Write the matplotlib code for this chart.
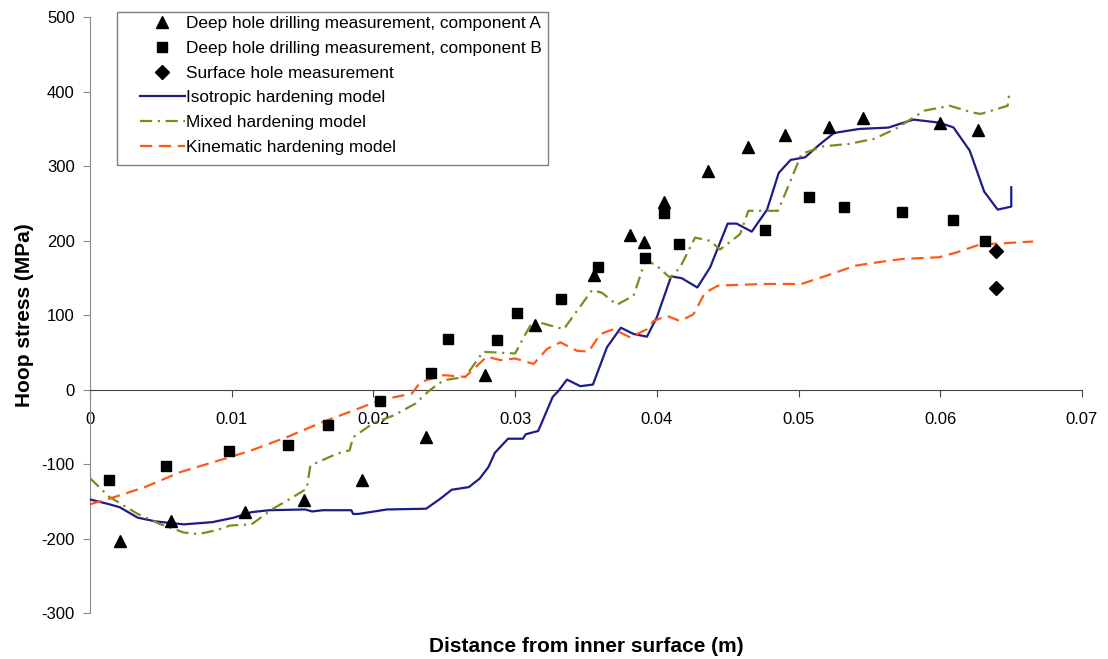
import matplotlib
matplotlib.use("Agg")
import matplotlib.pyplot as plt
from matplotlib.patches import Rectangle

plt.rcParams['font.family'] = ['Liberation Sans', 'DejaVu Sans']
plt.rcParams['axes.unicode_minus'] = False

# Deep hole drilling, component A (triangles)
a_x = [0.00214, 0.00573, 0.01095, 0.01513, 0.0192, 0.0237, 0.02786, 0.03143,
       0.03557, 0.03813, 0.03907, 0.04048, 0.04362, 0.04646, 0.04906, 0.05215,
       0.05458, 0.06001, 0.06269]
a_y = [-203, -177, -164, -148, -122, -64, 19, 87,
       154, 207, 198, 252, 293, 326, 342, 352,
       365, 358, 348]

# Deep hole drilling, component B (squares)
b_x = [0.00133, 0.0054, 0.00982, 0.014, 0.01683, 0.0205, 0.02405, 0.02523,
       0.02873, 0.03016, 0.03326, 0.03582, 0.03915, 0.0405, 0.04158, 0.04765,
       0.05072, 0.0532, 0.05728, 0.06093, 0.06313]
b_y = [-121, -103, -83, -74, -47, -15, 22, 68,
       67, 103, 121, 164, 177, 237, 196, 214,
       258, 245, 238, 228, 200]

# Surface hole measurement (diamonds)
s_x = [0.06395, 0.06395]
s_y = [186, 137]

# Isotropic hardening model
iso_x = [0, 0.00136, 0.0021, 0.00337, 0.00462, 0.00563, 0.00663, 0.00864, 0.01015,
         0.0114, 0.01266, 0.01518, 0.01568, 0.01643, 0.01844, 0.01857, 0.01894,
         0.02095, 0.02372, 0.02472, 0.02553, 0.02673, 0.02749, 0.02812, 0.02857,
         0.0295, 0.03055, 0.03075, 0.03163, 0.03265, 0.03308, 0.03366, 0.0346,
         0.03549, 0.03648, 0.03746, 0.03836, 0.0393, 0.04, 0.04101, 0.04176,
         0.04286, 0.04376, 0.045, 0.04563, 0.0467, 0.04778, 0.0486, 0.04944,
         0.05046, 0.05148, 0.0525, 0.05429, 0.05634, 0.05736, 0.05812, 0.05991,
         0.06093, 0.06208, 0.0631, 0.06405, 0.06501, 0.06501]
iso_y = [-147.5, -154, -158, -172, -177, -179, -181, -178, -172,
         -164.6, -162, -161, -163.7, -162, -162, -167, -167,
         -161, -160, -146.6, -134.5, -131, -119.7, -104, -85,
         -66, -66, -60, -55.6, -10, -1.3, 13.4, 4.5,
         6.7, 56.7, 83, 74.6, 71, 97, 152, 149.5,
         137, 164, 222.8, 222.8, 212, 241.6, 290.8, 308.3,
         311.8, 328.9, 344.5, 349.9, 351.7, 358, 362.4, 358.4,
         352, 320.8, 265.8, 241.6, 245.6, 271.6]

# Mixed hardening model
mix_x = [0, 0.00136, 0.00337, 0.00487, 0.00663, 0.00764, 0.0089, 0.0099, 0.0114,
         0.01291, 0.01392, 0.0153, 0.01555, 0.01744, 0.01832, 0.01857, 0.01995,
         0.02146, 0.02297, 0.02397, 0.02497, 0.02648, 0.02774, 0.03, 0.03062,
         0.03128, 0.03343, 0.03543, 0.03613, 0.03718, 0.03836, 0.03918, 0.03988,
         0.04094, 0.04164, 0.0427, 0.04376, 0.04446, 0.04587, 0.04646, 0.04855,
         0.04944, 0.05021, 0.05174, 0.05353, 0.05531, 0.05684, 0.05889, 0.06068,
         0.06221, 0.06284, 0.06476, 0.06489]
mix_y = [-119, -144, -167, -180, -192, -194, -189, -182.5, -181,
         -160, -149, -133, -102, -86, -81.6, -64, -45.7,
         -34.5, -18.8, -1, 12.6, 17, 50.7, 48.4, 70.8,
         92.4, 81, 133.5, 130, 113.8, 126, 172.8, 168,
         150, 164, 204, 199.6, 188, 208.5, 240, 240,
         280.5, 316.3, 326.6, 329.7, 336.5, 350, 374.5, 381,
         372.2, 370, 381, 401]

# Kinematic hardening model
kin_x = [0, 0.00136, 0.00387, 0.00638, 0.0099, 0.0114, 0.01392, 0.01643, 0.01894,
         0.02045, 0.02271, 0.02334, 0.02497, 0.02648, 0.02799, 0.02899, 0.03,
         0.03131, 0.03225, 0.03319, 0.03437, 0.03519, 0.03601, 0.03695, 0.03812,
         0.0393, 0.03977, 0.0407, 0.04164, 0.04258, 0.0434, 0.04434, 0.04765,
         0.05021, 0.05199, 0.05404, 0.05557, 0.05736, 0.05991, 0.06119, 0.06271,
         0.06374, 0.06655]
kin_y = [-154, -146.6, -131, -110.8, -90.6, -81.6, -63.7, -43.5, -25.6,
         -14.3, -5.4, 10.3, 19.3, 17, 44, 39.5, 41.7,
         34.4, 54.5, 63.4, 52, 51, 74.6, 81, 70,
         81, 92, 99, 92, 101, 130, 139.6, 141.8,
         141.8, 153, 166.4, 170.9, 175.4, 177.6, 184.3, 194.2,
         195.6, 198.7]

x_ticks = [0, 0.01, 0.02, 0.03, 0.04, 0.05, 0.06, 0.07]
x_tick_labels = ["0", "0.01", "0.02", "0.03", "0.04", "0.05", "0.06", "0.07"]
y_ticks = [-300, -200, -100, 0, 100, 200, 300, 400, 500]

fig = plt.figure(figsize=(11.08, 6.59), dpi=100)
ax = fig.add_axes([0.0812, 0.0698, 0.8953, 0.9042])

ax.plot(a_x, a_y, linestyle='none', marker='^', color='black', markersize=8.5,
        label='Deep hole drilling measurement, component A', zorder=4)
ax.plot(b_x, b_y, linestyle='none', marker='s', color='black', markersize=7.5,
        label='Deep hole drilling measurement, component B', zorder=4)
ax.plot(s_x, s_y, linestyle='none', marker='D', color='black', markersize=7,
        label='Surface hole measurement', zorder=4)
ax.plot(iso_x, iso_y, color='#1c1c8a', lw=1.6, label='Isotropic hardening model', zorder=3)
ax.plot(mix_x, mix_y, color='#7c8c1c', lw=1.6, dashes=(5.5, 2.5, 1, 2.5),
        label='Mixed hardening model', zorder=3)
ax.plot(kin_x, kin_y, color='#ff5a14', lw=1.6, dashes=(5.5, 3),
        label='Kinematic hardening model', zorder=3)

ax.set_xlim(0, 0.07)
ax.set_ylim(-300, 500)

for s in ['top', 'right']:
    ax.spines[s].set_visible(False)
ax.spines['left'].set_color('#8a8a8a')
ax.spines['bottom'].set_position(('data', 0))
ax.spines['bottom'].set_color('#444444')

ax.set_xticks(x_ticks)
ax.set_xticklabels(x_tick_labels)
ax.set_yticks(y_ticks)
ax.set_yticklabels([str(v) for v in y_ticks])
ax.tick_params(axis='x', direction='out', length=5, color='#444444', labelsize=12, pad=11)
ax.tick_params(axis='y', direction='out', length=5, color='#8a8a8a', labelsize=12, pad=6)

ax.set_xlabel('Distance from inner surface (m)', fontsize=15, fontweight='bold')
ax.xaxis.set_label_coords(0.5, -0.04)
ax.set_ylabel('Hoop stress (MPa)', fontsize=15, fontweight='bold')
ax.yaxis.set_label_coords(-0.056, 0.5)

# legend frame drawn separately so the inner left padding matches the reference
frame = Rectangle((0.0272, 0.7517), 0.4345, 0.2567, transform=ax.transAxes,
                  facecolor='white', edgecolor='#7f7f7f', lw=1.0, zorder=5,
                  clip_on=False)
ax.add_patch(frame)

leg = ax.legend(loc='upper left', bbox_to_anchor=(0.0504, 1.0016), borderaxespad=0,
                fontsize=12.4, frameon=False,
                handlelength=2.6, handletextpad=0.1, labelspacing=0.56,
                borderpad=0.0)
leg.set_zorder(6)

fig.savefig('out.png', dpi=100)
